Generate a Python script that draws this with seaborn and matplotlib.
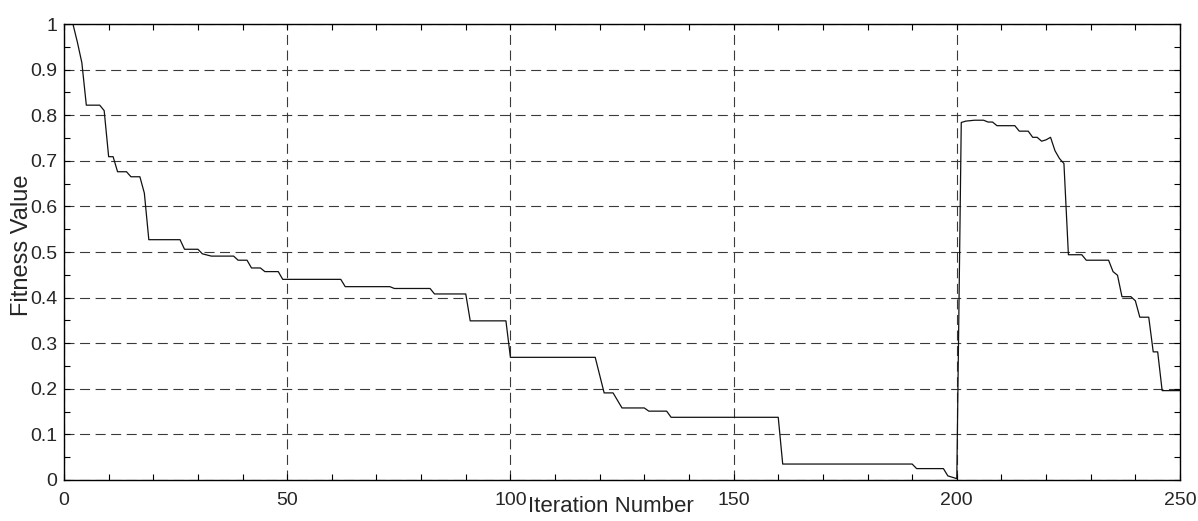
import numpy as np
import pandas as pd
import matplotlib
matplotlib.use("Agg")
import matplotlib.pyplot as plt
import seaborn as sns
from matplotlib.ticker import MultipleLocator

# iteration number at each corner of the curve
iteracoes = [2, 3, 4, 5, 8, 9, 10, 11, 12, 14, 15, 17, 18, 19, 26, 27, 30, 31, 33,
             38, 39, 41, 42, 44, 45, 48, 49, 62, 63, 73, 74, 82, 83, 90, 91, 99,
             100, 119, 121, 123, 125, 130, 131, 135, 136, 160, 161, 190, 191, 197,
             198, 200, 201, 202, 204, 206, 207, 208, 209, 213, 214, 216, 217, 218,
             219, 220, 221, 222, 223, 224, 225, 228, 229, 234, 235, 236, 237, 239,
             240, 241, 243, 244, 245, 246, 250]
fitness = [1.0, 0.96, 0.915, 0.822, 0.822, 0.81, 0.709, 0.709, 0.676, 0.676, 0.665,
           0.665, 0.629, 0.527, 0.527, 0.506, 0.506, 0.496, 0.491, 0.491, 0.482,
           0.482, 0.465, 0.465, 0.457, 0.457, 0.44, 0.44, 0.424, 0.424, 0.42, 0.42,
           0.408, 0.408, 0.349, 0.349, 0.269, 0.269, 0.191, 0.191, 0.158, 0.158,
           0.151, 0.151, 0.1375, 0.1375, 0.035, 0.035, 0.025, 0.025, 0.009, 0.003,
           0.784, 0.787, 0.789, 0.789, 0.785, 0.785, 0.777, 0.777, 0.765, 0.765,
           0.7515, 0.7515, 0.743, 0.746, 0.7515, 0.722, 0.705, 0.694, 0.494, 0.494,
           0.482, 0.482, 0.457, 0.449, 0.402, 0.402, 0.393, 0.357, 0.357, 0.281,
           0.281, 0.196, 0.196]

x_ticks = [0, 50, 100, 150, 200, 250]
y_ticks = [0, 0.1, 0.2, 0.3, 0.4, 0.5, 0.6, 0.7, 0.8, 0.9, 1]
y_labels = ["0", "0.1", "0.2", "0.3", "0.4", "0.5", "0.6", "0.7", "0.8", "0.9", "1"]

df = pd.DataFrame({"Iteration": iteracoes, "Fitness": fitness})

sns.set_theme(style="white")
plt.rcParams["font.family"] = ["Liberation Sans", "DejaVu Sans"]

fig = plt.figure(figsize=(11.98, 5.21), dpi=100)
ax = fig.add_axes([64 / 1198, 1 - 480 / 521, 1116 / 1198, 456 / 521])

sns.lineplot(data=df, x="Iteration", y="Fitness", color="#111111", linewidth=0.9,
             estimator=None, sort=False, ax=ax)

ax.set_xlim(0, 250)
ax.set_ylim(0, 1)
ax.set_xticks(x_ticks)
ax.set_xticklabels([str(t) for t in x_ticks])
ax.set_yticks(y_ticks)
ax.set_yticklabels(y_labels)
ax.xaxis.set_minor_locator(MultipleLocator(10))
ax.yaxis.set_minor_locator(MultipleLocator(0.05))

# grade tracejada no estilo matlab
ax.grid(True, which="major", color="#3a3a3a", linestyle=(0, (9, 5)), linewidth=0.8)

ax.tick_params(which="both", direction="in", top=True, right=True, bottom=True,
               left=True, length=4.5, width=0.8, color="black")
ax.tick_params(axis="x", which="major", labelsize=14, pad=8.5)
ax.tick_params(axis="y", which="major", labelsize=14, pad=5)

for s in ax.spines.values():
    s.set_color("black")
    s.set_linewidth(1.0)

# os rótulos dos eixos ficam sobre os números, como no original
ax.set_xlabel("Iteration Number", fontsize=16)
ax.set_ylabel("Fitness Value", fontsize=17)
ax.xaxis.set_label_coords(0.49, -0.035)
ax.yaxis.set_label_coords(-0.028, 0.515)

fig.savefig("out.png", dpi=100)
